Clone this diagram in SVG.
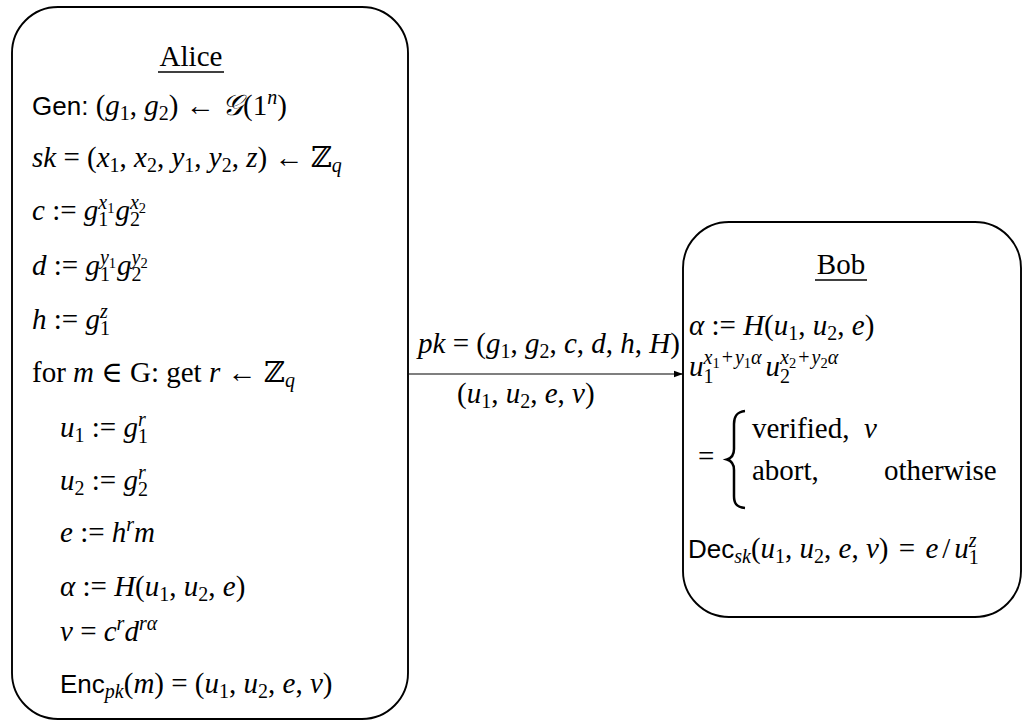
<svg xmlns="http://www.w3.org/2000/svg" width="1023" height="722" viewBox="0 0 1023 722">
<style>
.box{fill:#fff;stroke:#000;stroke-width:1.9}
.t{font-family:"Liberation Serif","DejaVu Serif",serif;font-size:29px;fill:#000}
.i{font-style:italic}
.s{font-size:20px}
.ss{font-size:14.5px}
.sf{font-family:"Liberation Sans","DejaVu Sans",sans-serif;font-size:26px;font-style:normal}
.cal{font-family:"DejaVu Serif","Noto Sans",serif;font-style:italic}
.ul{stroke:#000;stroke-width:1.3}
.conn{stroke:#000;stroke-width:1.2;fill:none}
</style>
<defs>
<marker id="ah" markerWidth="10" markerHeight="8" refX="9" refY="4" orient="auto" markerUnits="userSpaceOnUse">
<path d="M0,0.8 L9,4 L0,7.2 Z" fill="#000"/>
</marker>
</defs>

<g id="alice">
<rect class="box" x="12" y="7" width="396" height="712" rx="46" ry="46"/>
<text class="t" x="191" y="66" text-anchor="middle">Alice</text>
<line class="ul" x1="158" y1="72" x2="224" y2="72"/>
<text class="t" x="32" y="115"><tspan class="sf">Gen:</tspan> (<tspan class="i">g</tspan><tspan class="s" dy="5">1</tspan><tspan dy="-5">, </tspan><tspan class="i">g</tspan><tspan class="s" dy="5">2</tspan><tspan dy="-5">) ← </tspan><tspan class="cal">𝒢</tspan>(1<tspan class="s i" dy="-11">n</tspan><tspan dy="11">)</tspan></text>
<text class="t" x="32" y="167"><tspan class="i">sk</tspan> = (<tspan class="i">x</tspan><tspan class="s" dy="5">1</tspan><tspan dy="-5">, </tspan><tspan class="i">x</tspan><tspan class="s" dy="5">2</tspan><tspan dy="-5">, </tspan><tspan class="i">y</tspan><tspan class="s" dy="5">1</tspan><tspan dy="-5">, </tspan><tspan class="i">y</tspan><tspan class="s" dy="5">2</tspan><tspan dy="-5">, </tspan><tspan class="i">z</tspan>) ← ℤ<tspan class="s i" dy="5">q</tspan></text>
<text class="t" x="32" y="220"><tspan class="i">c</tspan> := <tspan class="i">g</tspan><tspan class="s" dy="6">1</tspan><tspan class="s i" dx="-10" dy="-17">x</tspan><tspan class="ss" dy="4">1</tspan><tspan class="i" dx="1" dy="7">g</tspan><tspan class="s" dy="6">2</tspan><tspan class="s i" dx="-10" dy="-17">x</tspan><tspan class="ss" dy="4">2</tspan></text>
<text class="t" x="32" y="275"><tspan class="i">d</tspan> := <tspan class="i">g</tspan><tspan class="s" dy="6">1</tspan><tspan class="s i" dx="-10" dy="-17">y</tspan><tspan class="ss" dy="4">1</tspan><tspan class="i" dx="1" dy="7">g</tspan><tspan class="s" dy="6">2</tspan><tspan class="s i" dx="-10" dy="-17">y</tspan><tspan class="ss" dy="4">2</tspan></text>
<text class="t" x="32" y="329"><tspan class="i">h</tspan> := <tspan class="i">g</tspan><tspan class="s" dy="6">1</tspan><tspan class="s i" dx="-10" dy="-17">z</tspan></text>
<text class="t" x="32" y="382">for <tspan class="i">m</tspan> ∈ G: get <tspan class="i">r</tspan> ← ℤ<tspan class="s i" dy="5">q</tspan></text>
<text class="t" x="60" y="437"><tspan class="i">u</tspan><tspan class="s" dy="5">1</tspan><tspan dy="-5"> := </tspan><tspan class="i">g</tspan><tspan class="s" dy="6">1</tspan><tspan class="s i" dx="-10" dy="-17">r</tspan></text>
<text class="t" x="60" y="490"><tspan class="i">u</tspan><tspan class="s" dy="5">2</tspan><tspan dy="-5"> := </tspan><tspan class="i">g</tspan><tspan class="s" dy="6">2</tspan><tspan class="s i" dx="-10" dy="-17">r</tspan></text>
<text class="t" x="60" y="542"><tspan class="i">e</tspan> := <tspan class="i">h</tspan><tspan class="s i" dy="-11">r</tspan><tspan class="i" dy="11">m</tspan></text>
<text class="t" x="60" y="596"><tspan class="i">α</tspan> := <tspan class="i">H</tspan>(<tspan class="i">u</tspan><tspan class="s" dy="5">1</tspan><tspan dy="-5">, </tspan><tspan class="i">u</tspan><tspan class="s" dy="5">2</tspan><tspan dy="-5">, </tspan><tspan class="i">e</tspan>)</text>
<text class="t" x="60" y="641"><tspan class="i">v</tspan> = <tspan class="i">c</tspan><tspan class="s i" dy="-11">r</tspan><tspan class="i" dy="11">d</tspan><tspan class="s i" dy="-11">rα</tspan></text>
<text class="t" x="60" y="693"><tspan class="sf">Enc</tspan><tspan class="s i" dy="5">pk</tspan><tspan dy="-5">(</tspan><tspan class="i">m</tspan>) = (<tspan class="i">u</tspan><tspan class="s" dy="5">1</tspan><tspan dy="-5">, </tspan><tspan class="i">u</tspan><tspan class="s" dy="5">2</tspan><tspan dy="-5">, </tspan><tspan class="i">e</tspan>, <tspan class="i">v</tspan>)</text>
</g>

<g id="bob">
<rect class="box" x="683" y="222" width="338" height="395" rx="46" ry="46"/>
<text class="t" x="841" y="274" text-anchor="middle">Bob</text>
<line class="ul" x1="815" y1="280" x2="867" y2="280"/>
<text class="t" x="689" y="335"><tspan class="i">α</tspan> := <tspan class="i">H</tspan>(<tspan class="i">u</tspan><tspan class="s" dy="5">1</tspan><tspan dy="-5">, </tspan><tspan class="i">u</tspan><tspan class="s" dy="5">2</tspan><tspan dy="-5">, </tspan><tspan class="i">e</tspan>)</text>
<text class="t" x="689" y="376"><tspan class="i">u</tspan><tspan class="s" dy="7">1</tspan><tspan class="s i" dx="-10" dy="-19">x</tspan><tspan class="ss" dy="4">1</tspan><tspan class="s" dx="2" dy="-4">+</tspan><tspan class="s i" dx="2">y</tspan><tspan class="ss" dy="4">1</tspan><tspan class="s i" dy="-4">α</tspan><tspan class="i" dx="4" dy="12">u</tspan><tspan class="s" dy="7">2</tspan><tspan class="s i" dx="-10" dy="-19">x</tspan><tspan class="ss" dy="4">2</tspan><tspan class="s" dx="2" dy="-4">+</tspan><tspan class="s i" dx="2">y</tspan><tspan class="ss" dy="4">2</tspan><tspan class="s i" dy="-4">α</tspan></text>
<text class="t" x="698" y="466">=</text>
<path d="M745,411 C736,412 734,417 734,424 L734,449 C734,455 732,458 727,459.5 C732,461 734,464 734,470 L734,496 C734,503 736,507 745,508" fill="none" stroke="#000" stroke-width="2.5"/>
<text class="t" x="752" y="438">verified,</text>
<text class="t i" x="864" y="438">v</text>
<text class="t" x="752" y="480">abort,</text>
<text class="t" x="884" y="480">otherwise</text>
<text class="t" x="688" y="558"><tspan class="sf">Dec</tspan><tspan class="s i" dy="5">sk</tspan><tspan dy="-5">(</tspan><tspan class="i">u</tspan><tspan class="s" dy="5">1</tspan><tspan dy="-5">, </tspan><tspan class="i">u</tspan><tspan class="s" dy="5">2</tspan><tspan dy="-5">, </tspan><tspan class="i">e</tspan>, <tspan class="i">v</tspan>)<tspan dx="3"> = </tspan><tspan class="i" dx="3">e</tspan><tspan dx="4">/</tspan><tspan class="i" dx="4">u</tspan><tspan class="s" dy="6">1</tspan><tspan class="s i" dx="-10" dy="-17">z</tspan></text>
</g>

<g id="connectors">
<line class="conn" x1="409" y1="374" x2="683" y2="374" marker-end="url(#ah)"/>
<text class="t" x="418" y="353"><tspan class="i">pk</tspan> = (<tspan class="i">g</tspan><tspan class="s" dy="5">1</tspan><tspan dy="-5">, </tspan><tspan class="i">g</tspan><tspan class="s" dy="5">2</tspan><tspan dy="-5">, </tspan><tspan class="i">c</tspan>, <tspan class="i">d</tspan>, <tspan class="i">h</tspan>, <tspan class="i">H</tspan>)</text>
<text class="t" x="457" y="403">(<tspan class="i">u</tspan><tspan class="s" dy="5">1</tspan><tspan dy="-5">, </tspan><tspan class="i">u</tspan><tspan class="s" dy="5">2</tspan><tspan dy="-5">, </tspan><tspan class="i">e</tspan>, <tspan class="i">v</tspan>)</text>
</g>
</svg>
